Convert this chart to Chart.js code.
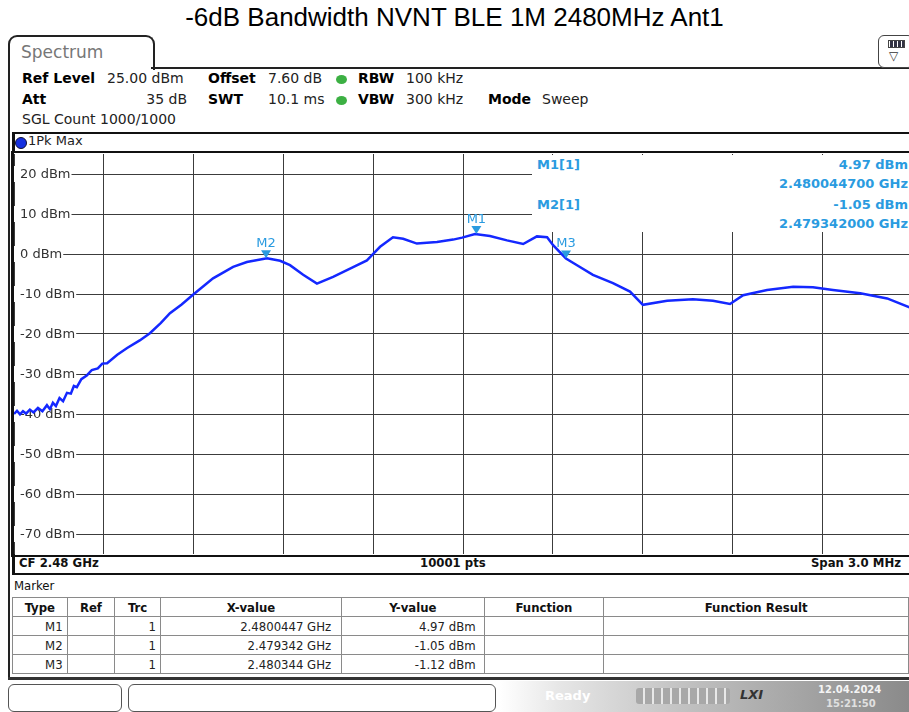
<!DOCTYPE html>
<html>
<head>
<meta charset="utf-8">
<script src="https://cdn.jsdelivr.net/npm/chart.js@4"></script>
<style>
  html, body { margin: 0; padding: 0; }
  body { width: 909px; height: 712px; position: relative; overflow: hidden; background: #fff;
         font-family: "DejaVu Sans", Verdana, sans-serif; color: #111; }
  .abs { position: absolute; white-space: nowrap; }
  #title { left: 0; width: 909px; top: 2px; text-align: center; font-family: "Liberation Sans", Arial, sans-serif; font-size: 26px; color: #000; }
  #tab { left: 8px; top: 35px; width: 143px; height: 33px; border: 2px solid #222; border-bottom: none; border-radius: 9px 9px 0 0; background: #fff; }
  #tab span { position: absolute; left: 11px; top: 5px; font-size: 17px; color: #777; }
  #tabline { left: 151px; top: 67px; width: 760px; height: 0; border-top: 2px solid #222; }
  #outerleft { left: 8px; top: 68px; width: 0; height: 612px; border-left: 2px solid #222; }
  #icon { left: 878px; top: 35px; width: 34px; height: 31px; border: 1px solid #444; border-radius: 6px; background: #fff; }
  .hdr { font-size: 14px; color: #222; }
  .hdr b { color: #000; }
  .dot { width: 11px; height: 9px; border-radius: 50%; background: #3cb043; }
  #tracebox { left: 12px; top: 132px; width: 900px; height: 19px; border-top: 2px solid #111; border-left: 3px solid #111; }
  #plotframe { left: 11px; top: 151px; width: 904px; height: 402px; border: 2px solid #111; border-left-width: 3px; }
  #chartwrap { left: 14px; top: 154px; width: 898px; height: 400px; }
  #infobox { left: 532px; top: 155px; width: 380px; height: 77px; background: #fff; }
  .mk { font-size: 13px; font-weight: bold; color: #2a9be0; }
  #strip { left: 12px; top: 554px; width: 900px; height: 19px; border-left: 3px solid #111; border-bottom: 2px solid #111; }
  .strip { font-family: "DejaVu Sans Condensed", "DejaVu Sans", sans-serif; font-stretch: condensed; font-size: 13px; font-weight: bold; color: #111; }
  #markerlbl { left: 14px; top: 578px; font-family: "DejaVu Sans Condensed", "DejaVu Sans", sans-serif; font-stretch: condensed; font-size: 13px; color: #111; }
  #tbl { left: 12px; top: 597px; border-collapse: collapse; font-family: "DejaVu Sans Condensed", "DejaVu Sans", sans-serif; font-stretch: condensed; font-size: 13px; color: #222; }
  #tbl td, #tbl th { border: 1px solid #8a8a8a; height: 18px; padding: 0 4px; }
  #tbl th { font-weight: bold; color: #111; text-align: center; }
  #tbl td { text-align: right; }
  #bottomline { left: 8px; top: 677px; width: 904px; height: 0; border-top: 3px solid #333; }
  #status { left: 0; top: 681px; width: 909px; height: 31px;
            background: linear-gradient(to right, #fff 0px, #fff 500px, #e6e6e6 560px, #bdbdbd 700px, #8a8a8a 909px); }
  .sbox { top: 684px; height: 26px; border: 1px solid #555; border-radius: 6px; background: #fff; }
</style>
</head>
<body>
<div id="title" class="abs">-6dB Bandwidth NVNT BLE 1M 2480MHz Ant1</div>

<div id="tab" class="abs"><span>Spectrum</span></div>
<div id="tabline" class="abs"></div>
<div id="outerleft" class="abs"></div>
<div id="icon" class="abs">
  <div class="abs" style="left:9px;top:4px;width:15px;height:6px;border:1px solid #444;background:repeating-linear-gradient(to right,#fff 0,#fff 1px,#334 1px,#334 4px);"></div>
  <div class="abs" style="left:10px;top:13px;font-size:12px;color:#333;">&#9661;</div>
</div>

<div class="abs hdr" style="left:22px;top:70px;"><b>Ref Level</b></div>
<div class="abs hdr" style="left:107px;top:70px;">25.00 dBm</div>
<div class="abs hdr" style="left:208px;top:70px;"><b>Offset</b></div>
<div class="abs hdr" style="left:268px;top:70px;">7.60 dB</div>
<div class="abs dot" style="left:336px;top:75px;"></div>
<div class="abs hdr" style="left:358px;top:70px;"><b>RBW</b></div>
<div class="abs hdr" style="left:406px;top:70px;">100 kHz</div>

<div class="abs hdr" style="left:22px;top:91px;"><b>Att</b></div>
<div class="abs hdr" style="left:107px;top:91px;width:80px;text-align:right;">35 dB</div>
<div class="abs hdr" style="left:208px;top:91px;"><b>SWT</b></div>
<div class="abs hdr" style="left:268px;top:91px;">10.1 ms</div>
<div class="abs dot" style="left:336px;top:96px;"></div>
<div class="abs hdr" style="left:358px;top:91px;"><b>VBW</b></div>
<div class="abs hdr" style="left:406px;top:91px;">300 kHz</div>
<div class="abs hdr" style="left:488px;top:91px;"><b>Mode</b></div>
<div class="abs hdr" style="left:542px;top:91px;">Sweep</div>

<div class="abs hdr" style="left:22px;top:111px;">SGL Count 1000/1000</div>

<div id="tracebox" class="abs"></div>
<div class="abs" style="left:15px;top:137px;width:10px;height:10px;border-radius:50%;background:#1530e0;border:1px solid #113;"></div>
<div class="abs hdr" style="left:28px;top:133px;font-size:13px;">1Pk Max</div>

<div id="plotframe" class="abs"></div>
<div id="chartwrap" class="abs"><canvas id="spec" width="898" height="400"></canvas></div>

<div id="infobox" class="abs">
  <div class="abs mk" style="left:5px;top:2px;">M1[1]</div>
  <div class="abs mk" style="right:4px;top:2px;">4.97 dBm</div>
  <div class="abs mk" style="right:4px;top:21px;">2.480044700 GHz</div>
  <div class="abs mk" style="left:5px;top:42px;">M2[1]</div>
  <div class="abs mk" style="right:4px;top:42px;">-1.05 dBm</div>
  <div class="abs mk" style="right:4px;top:61px;">2.479342000 GHz</div>
</div>

<div id="strip" class="abs"></div>
<div class="abs strip" style="left:19px;top:555px;">CF 2.48 GHz</div>
<div class="abs strip" style="left:420px;top:555px;">10001 pts</div>
<div class="abs strip" style="right:8px;top:555px;">Span 3.0 MHz</div>

<div id="markerlbl" class="abs">Marker</div>
<table id="tbl" class="abs">
  <tr><th style="width:46px">Type</th><th style="width:39px">Ref</th><th style="width:37px">Trc</th><th style="width:174px">X-value</th><th style="width:135px">Y-value</th><th style="width:112px">Function</th><th style="width:300px">Function Result</th></tr>
  <tr><td>M1</td><td></td><td>1</td><td style="padding-right:10px">2.4800447 GHz</td><td style="padding-right:8px">4.97 dBm</td><td></td><td></td></tr>
  <tr><td>M2</td><td></td><td>1</td><td style="padding-right:10px">2.479342 GHz</td><td style="padding-right:8px">-1.05 dBm</td><td></td><td></td></tr>
  <tr><td>M3</td><td></td><td>1</td><td style="padding-right:10px">2.480344 GHz</td><td style="padding-right:8px">-1.12 dBm</td><td></td><td></td></tr>
</table>
<div id="bottomline" class="abs"></div>

<div id="status" class="abs"></div>
<div class="abs sbox" style="left:8px;width:112px;"></div>
<div class="abs sbox" style="left:128px;width:366px;"></div>
<div class="abs" style="left:545px;top:688px;font-size:13px;color:#fff;font-weight:bold;">Ready</div>
<div class="abs" style="left:636px;top:688px;width:94px;height:16px;border-radius:3px;background:repeating-linear-gradient(to right,#a8a8a8 0,#a8a8a8 7px,#e8e8e8 7px,#e8e8e8 9px);"></div>
<div class="abs" style="left:740px;top:687px;font-size:13px;font-weight:bold;font-style:italic;color:#333;">LXI</div>
<div class="abs" style="left:818px;top:684px;font-size:10px;color:#f4f4f4;font-weight:bold;">12.04.2024</div>
<div class="abs" style="left:826px;top:698px;font-size:10px;color:#e0e0e0;font-weight:bold;">15:21:50</div>

<script>
// trace: frequency (MHz) vs level (dBm)
const FREQ_MHZ = [
  2478.500, 2478.510, 2478.520, 2478.530, 2478.540, 2478.553, 2478.565, 2478.580, 2478.595, 2478.610,
  2478.620, 2478.630, 2478.640, 2478.652, 2478.664, 2478.677, 2478.690, 2478.700, 2478.710, 2478.725,
  2478.744, 2478.760, 2478.780, 2478.795, 2478.811, 2478.845, 2478.878, 2478.920, 2478.954, 2478.990,
  2479.021, 2479.060, 2479.098, 2479.165, 2479.232, 2479.278, 2479.345, 2479.389, 2479.422, 2479.466,
  2479.512, 2479.566, 2479.633, 2479.679, 2479.696, 2479.723, 2479.766, 2479.800, 2479.846, 2479.913,
  2479.967, 2479.997, 2480.040, 2480.090, 2480.147, 2480.201, 2480.247, 2480.281, 2480.301, 2480.344,
  2480.381, 2480.434, 2480.501, 2480.558, 2480.601, 2480.682, 2480.768, 2480.835, 2480.892, 2480.936,
  2481.016, 2481.103, 2481.169, 2481.236, 2481.327, 2481.417, 2481.500
];
const LEVEL_DBM = [
  -40.0, -39.2, -40.1, -39.3, -39.9, -38.9, -39.6, -38.5, -39.3, -37.8,
  -38.8, -37.2, -38.0, -36.0, -36.8, -34.7, -34.9, -33.0, -33.3, -31.3,
  -30.3, -29.0, -28.6, -27.4, -27.3, -25.2, -23.5, -21.6, -19.8, -17.3,
  -14.8, -12.6, -10.2, -6.1, -3.2, -2.0, -1.05, -1.7, -2.8, -5.2,
  -7.4, -5.7, -3.3, -1.6, -0.3, 1.8, 4.2, 3.8, 2.6, 3.0,
  3.6, 4.1, 4.97, 4.5, 3.4, 2.5, 4.4, 4.2, 2.2, -1.12,
  -2.8, -5.2, -7.3, -9.4, -12.7, -11.7, -11.3, -11.7, -12.5, -10.3,
  -9.0, -8.2, -8.3, -9.0, -9.8, -11.1, -13.6
];

const MARKER_NAMES = ['M1', 'M2', 'M3'];
const MARKER_FREQ = [2480.0447, 2479.342, 2480.344];
const MARKER_LEVEL = [4.97, -1.05, -1.12];

const X_GRID = [2478.5, 2478.8, 2479.1, 2479.4, 2479.7, 2480.0, 2480.3, 2480.6, 2480.9, 2481.2, 2481.5];
const Y_GRID = [20, 10, 0, -10, -20, -30, -40, -50, -60, -70];
const Y_LABELS = Y_GRID.map(v => v + ' dBm');

const TRACE = '#1428ff';
const MARKER = '#2a9be0';

// y labels sit inside the grid on a white patch, under the trace
const yLabels = {
  id: 'yLabels',
  beforeDatasetsDraw(chart) {
    const { ctx, chartArea, scales: { y } } = chart;
    ctx.save();
    ctx.font = '13px "DejaVu Sans", sans-serif';
    ctx.textBaseline = 'middle';
    Y_GRID.forEach((v, i) => {
      const py = y.getPixelForValue(v);
      const w = ctx.measureText(Y_LABELS[i]).width;
      ctx.fillStyle = '#fff';
      ctx.fillRect(chartArea.left, py - 8, w + 7, 16);
      ctx.fillStyle = '#333';
      ctx.fillText(Y_LABELS[i], chartArea.left + 6, py + 1);
    });
    ctx.restore();
  }
};

const markers = {
  id: 'markers',
  afterDatasetsDraw(chart) {
    const { ctx, scales: { x, y } } = chart;
    ctx.save();
    ctx.font = '13px "DejaVu Sans", sans-serif';
    ctx.textAlign = 'center';
    ctx.textBaseline = 'alphabetic';
    MARKER_NAMES.forEach((name, i) => {
      const px = x.getPixelForValue(MARKER_FREQ[i]);
      const py = y.getPixelForValue(MARKER_LEVEL[i]);
      ctx.fillStyle = MARKER;
      ctx.beginPath();
      ctx.moveTo(px - 5, py - 8);
      ctx.lineTo(px + 5, py - 8);
      ctx.lineTo(px, py);
      ctx.closePath();
      ctx.fill();
      ctx.fillText(name, px, py - 11);
    });
    ctx.restore();
  }
};

new Chart(document.getElementById('spec'), {
  type: 'line',
  data: {
    datasets: [{
      data: FREQ_MHZ.map((f, i) => ({ x: f, y: LEVEL_DBM[i] })),
      borderColor: TRACE,
      borderWidth: 2.5,
      pointRadius: 0,
      tension: 0,
    }],
  },
  options: {
    responsive: false,
    animation: false,
    layout: { padding: 0 },
    plugins: { legend: { display: false }, tooltip: { enabled: false } },
    scales: {
      x: {
        type: 'linear',
        min: 2478.5,
        max: 2481.5,
        afterBuildTicks: s => { s.ticks = X_GRID.map(v => ({ value: v })); },
        ticks: { display: false },
        grid: { color: '#3c3c3c', lineWidth: 1, drawTicks: false },
        border: { display: false },
      },
      y: {
        min: -75,
        max: 25,
        afterBuildTicks: s => { s.ticks = Y_GRID.map(v => ({ value: v })); },
        ticks: { display: false },
        grid: { color: '#3c3c3c', lineWidth: 1, drawTicks: false },
        border: { display: false },
      },
    },
  },
  plugins: [yLabels, markers],
});
</script>
</body>
</html>
